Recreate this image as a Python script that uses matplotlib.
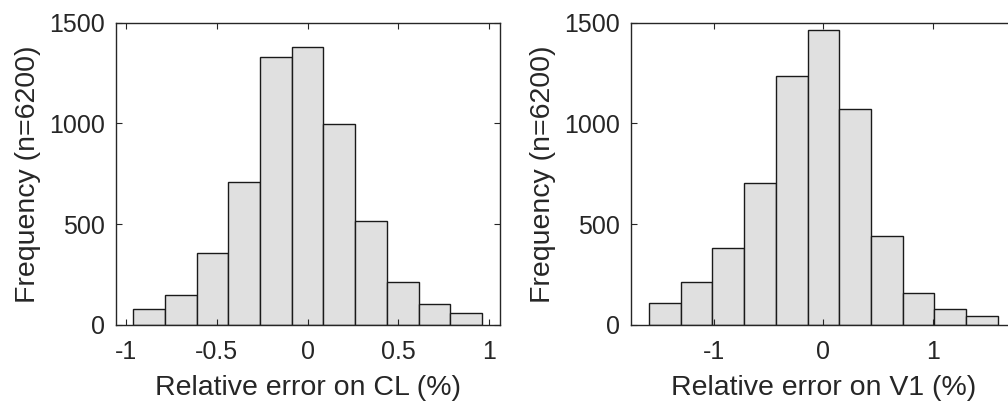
import numpy as np
import matplotlib
matplotlib.use("Agg")
import matplotlib.pyplot as plt

plt.rcParams['font.family'] = ['Liberation Sans', 'DejaVu Sans']

# Left histogram: relative error on CL (%)
cl_edges = np.linspace(-0.961, 0.961, 12)
cl_counts = [79, 149, 359, 711, 1328, 1381, 999, 518, 213, 104, 58]
cl_xticks = [-1, -0.5, 0, 0.5, 1]
cl_xticklabels = ['-1', '-0.5', '0', '0.5', '1']

# Right histogram: relative error on V1 (%)
v1_edges = np.linspace(-1.588, 1.592, 12)
v1_counts = [107, 212, 380, 703, 1236, 1464, 1070, 443, 160, 79, 43]
v1_xticks = [-1, 0, 1]
v1_xticklabels = ['-1', '0', '1']

yticks = [0, 500, 1000, 1500]
ylabel = 'Frequency (n=6200)'

fig = plt.figure(figsize=(10.08, 4.05), dpi=100)
ax1 = fig.add_axes([116/1008, 1-325/405, (500-116)/1008, (325-22.7)/405])
ax2 = fig.add_axes([631.3/1008, 1-325/405, (1015-631.3)/1008, (325-22.7)/405])

def draw(ax, edges, counts, xticks, xticklabels, xlim, xlabel):
    edges = np.asarray(edges)
    ax.bar(edges[:-1], counts, width=np.diff(edges), align='edge',
           color='#e0e0e0', edgecolor='#1a1a1a', linewidth=1.0)
    ax.set_xlim(*xlim)
    ax.set_ylim(0, 1500)
    ax.set_xticks(xticks)
    ax.set_xticklabels(xticklabels)
    ax.set_yticks(yticks)
    ax.tick_params(direction='in', length=4, width=0.8, top=True, right=True,
                   labelsize=18, colors='#262626')
    ax.tick_params(axis='x', pad=11)
    ax.tick_params(axis='y', pad=8)
    for s in ax.spines.values():
        s.set_linewidth(1.0)
        s.set_color('#262626')
    ax.set_xlabel(xlabel, fontsize=20.5, color='#262626', labelpad=8)
    ax.set_ylabel(ylabel, fontsize=20.5, color='#262626', labelpad=6)

draw(ax1, cl_edges, cl_counts, cl_xticks, cl_xticklabels, (-1.055, 1.06),
     'Relative error on CL (%)')
draw(ax2, v1_edges, v1_counts, v1_xticks, v1_xticklabels, (-1.75, 1.75),
     'Relative error on V1 (%)')

fig.savefig('out.png', dpi=100)
